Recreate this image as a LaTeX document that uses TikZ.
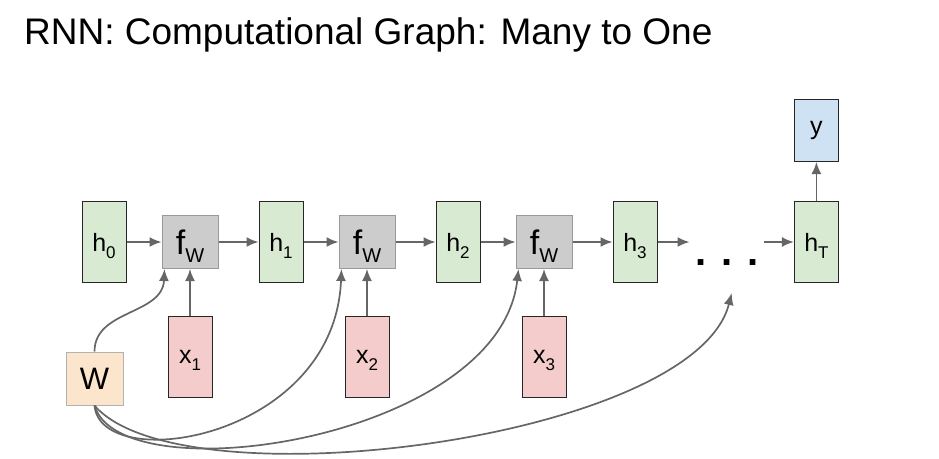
\documentclass[tikz,border=0pt]{standalone}
\usepackage{fontspec}
\setmainfont{Liberation Sans}
\usepackage{xcolor}
\usetikzlibrary{arrows.meta,positioning}
\definecolor{hgreen}{HTML}{D9EAD3}
\definecolor{fgray}{HTML}{CCCCCC}
\definecolor{xpink}{HTML}{F4CCCC}
\definecolor{wpeach}{HTML}{FCE5CD}
\definecolor{yblue}{HTML}{CFE2F3}
\definecolor{linegray}{HTML}{666666}
\newcommand{\hsub}[2]{#1\raisebox{-7pt}{\fontsize{17}{17}\selectfont #2}}
\newcommand{\fW}{f\raisebox{-8pt}{\fontsize{20}{20}\selectfont W}}

\begin{document}
\begin{tikzpicture}[
  x=1pt, y=-1pt,
  hstate/.style={draw=black!85,line width=1pt,fill=hgreen,minimum width=44pt,
                 minimum height=81pt,inner sep=0pt,text depth=0pt,
                 font=\fontsize{25}{25}\selectfont},
  fcell/.style={draw=black!40,line width=1pt,fill=fgray,minimum width=56pt,
                minimum height=53pt,inner sep=0pt,text depth=0pt,
                font=\fontsize{34}{34}\selectfont},
  xin/.style={hstate,fill=xpink},
  yout/.style={hstate,fill=yblue,minimum height=62pt,text depth=},
  wbox/.style={draw=black!30,line width=1pt,fill=wpeach,minimum width=57pt,
               minimum height=53pt,inner sep=0pt,text depth=0pt,
               font=\fontsize{31}{31}\selectfont},
  dotsbox/.style={minimum width=74pt,inner sep=0pt,text height=46pt,text depth=0pt,
                  font=\fontsize{40}{40}\selectfont\bfseries},
  arrow/.style={-{Latex[length=12pt,width=10pt]},line width=1.7pt,draw=linegray}
]
\useasboundingbox (0,0) rectangle (939,458);
\node[anchor=base west,inner sep=0pt,font=\fontsize{37}{44}\selectfont] (title)
  at (24,44) {RNN: Computational Graph: Many to One};
\node[hstate] (h0) at (104,242) {\hsub{h}{0}};
\node[fcell,right=35pt of h0] (f1) {\fW};
\node[hstate,right=40pt of f1] (h1) {\hsub{h}{1}};
\node[fcell,right=35pt of h1] (f2) {\fW};
\node[hstate,right=40pt of f2] (h2) {\hsub{h}{2}};
\node[fcell,right=35pt of h2] (f3) {\fW};
\node[hstate,right=40pt of f3] (h3) {\hsub{h}{3}};
\node[dotsbox,right=32pt of h3] (dots) {. . .};
\node[hstate,right=30pt of dots] (hT) {\hsub{h}{T}};
\node[yout,above=39pt of hT] (y) {y};
\node[xin,below=47pt of f1] (x1) {\hsub{x}{1}};
\node[xin,below=47pt of f2] (x2) {\hsub{x}{2}};
\node[xin,below=47pt of f3] (x3) {\hsub{x}{3}};
\node[wbox] (W) at (94.5,378.5) {W};
\coordinate (ahead) at ([xshift=5pt,yshift=-51pt]dots.center);
% recurrence
\draw[arrow] (h0) -- (f1);
\draw[arrow] (f1) -- (h1);
\draw[arrow] (h1) -- (f2);
\draw[arrow] (f2) -- (h2);
\draw[arrow] (h2) -- (f3);
\draw[arrow] (f3) -- (h3);
\draw[arrow] (h3) -- (dots);
\draw[arrow] (dots) -- (hT);
\draw[arrow] (hT) -- (y);
% inputs
\draw[arrow] (x1) -- (f1);
\draw[arrow] (x2) -- (f2);
\draw[arrow] (x3) -- (f3);
% shared weights
\draw[arrow] (W.north) .. controls +(0,-42) and +(-2,46) .. ([xshift=3pt]f1.south west);
\draw[arrow] (W.south) .. controls +(6,70) and +(-7,171) .. ([xshift=3pt]f2.south west);
\draw[arrow] (W.south) .. controls +(26,90) and +(-19,171) .. ([xshift=3pt]f3.south west);
\draw[arrow] (W.south) .. controls +(86,100) and +(-37,147) .. (ahead);
\end{tikzpicture}
\end{document}
